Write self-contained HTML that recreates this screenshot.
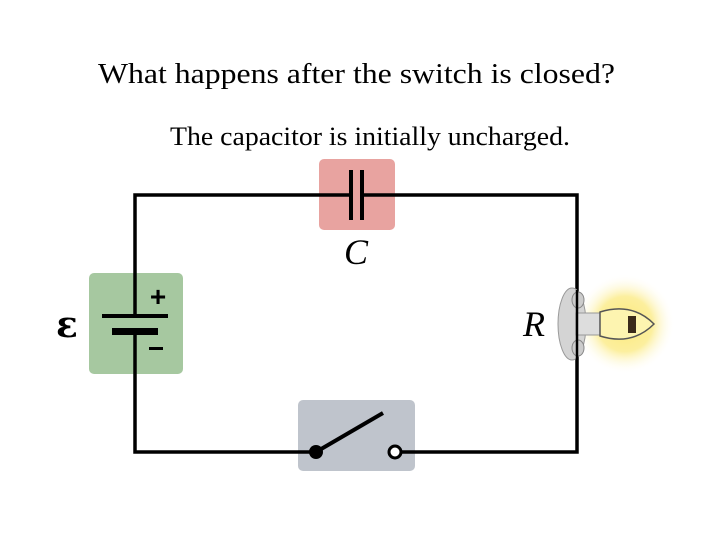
<!DOCTYPE html>
<html><head><style>
body{margin:0;background:#fff;width:720px;height:540px;overflow:hidden}
</style></head><body>
<svg width="720" height="540" xmlns="http://www.w3.org/2000/svg">
<defs>
<radialGradient id="g" cx="0.5" cy="0.5" r="0.5">
<stop offset="0" stop-color="#fbe97a"/><stop offset="0.55" stop-color="#fcef9e"/><stop offset="1" stop-color="#fff" stop-opacity="0"/>
</radialGradient>
</defs>
<text x="98" y="83" textLength="517" lengthAdjust="spacingAndGlyphs" font-family="Liberation Serif" font-size="29">What happens after the switch is closed?</text>
<text x="170" y="145" textLength="400" lengthAdjust="spacingAndGlyphs" font-family="Liberation Serif" font-size="26">The capacitor is initially uncharged.</text>
<rect x="89" y="273" width="94" height="101" rx="5" fill="#a6c8a0"/>
<rect x="319" y="159" width="76" height="71" rx="5" fill="#e8a3a0"/>
<rect x="298" y="400" width="117" height="71" rx="5" fill="#bfc4cc"/>
<g stroke="#000" stroke-width="3.5" fill="none">
<polyline points="135,316 135,195 351,195"/>
<polyline points="362,195 577,195 577,452 395,452"/>
<polyline points="316,452 135,452 135,330"/>
</g>
<rect x="102" y="314" width="66" height="4" fill="#000"/>
<rect x="112" y="328" width="46" height="7" fill="#000"/>
<text x="158" y="306" text-anchor="middle" font-family="Liberation Sans" font-size="28" font-weight="bold">+</text>
<rect x="149" y="347" width="14" height="3" fill="#000"/>
<text x="67" y="337" text-anchor="middle" font-family="DejaVu Serif" font-weight="bold" font-size="36">ε</text>
<rect x="349" y="170" width="4" height="50" fill="#000"/>
<rect x="360" y="170" width="4" height="50" fill="#000"/>
<text x="356" y="264" text-anchor="middle" font-family="Liberation Serif" font-style="italic" font-size="36">C</text>
<line x1="316" y1="452" x2="383" y2="413" stroke="#000" stroke-width="4"/>
<circle cx="316" cy="452" r="7"/>
<circle cx="395" cy="452" r="6" fill="#fff" stroke="#000" stroke-width="3"/>
<text x="534" y="336" text-anchor="middle" font-family="Liberation Serif" font-style="italic" font-size="36">R</text>
<circle cx="625" cy="324" r="50" fill="url(#g)"/>
<ellipse cx="572" cy="324" rx="14" ry="36" fill="#d4d4d4" stroke="#999"/>
<rect x="576" y="313" width="25" height="22" fill="#ddd" stroke="#999"/>
<ellipse cx="578" cy="300" rx="6" ry="8" fill="#ccc" stroke="#888"/>
<ellipse cx="578" cy="348" rx="6" ry="8" fill="#ccc" stroke="#888"/>
<path d="M600 312 Q632 302 654 324 Q632 346 600 336 Z" fill="#fdf4b0" stroke="#555" stroke-width="1.5"/>
<rect x="628" y="316" width="8" height="17" fill="#3a2a1a"/>
<line x1="577" y1="290" x2="577" y2="360" stroke="#000" stroke-width="2.5"/>
</svg>
</body></html>
